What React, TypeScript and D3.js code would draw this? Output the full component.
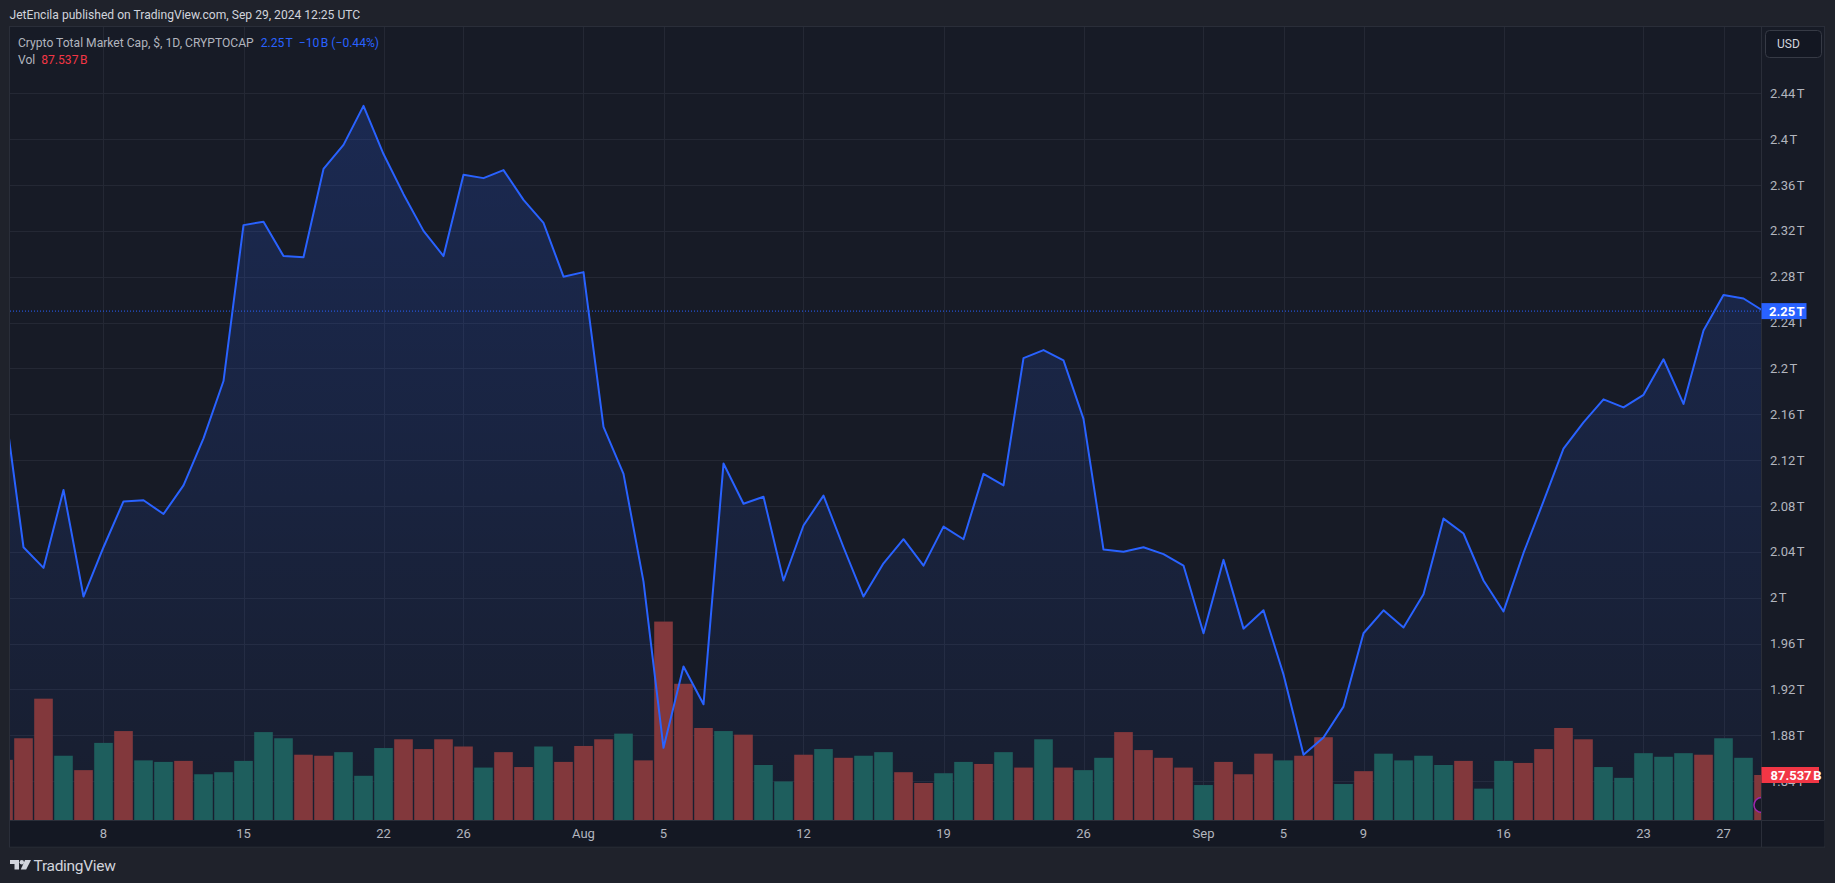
import React, { useEffect } from 'react'
import * as d3 from 'd3'

// Crypto total market cap, daily close in trillions USD (Jul 3 .. Sep 29, 2024)
const startDay = new Date(Date.UTC(2024, 6, 3))

const closes = [
  2.175, 2.044, 2.026, 2.094, 2.001, 2.044, 2.084, 2.085, 2.073, 2.098,
  2.139, 2.189, 2.325, 2.328, 2.298, 2.297, 2.374, 2.395, 2.429, 2.387,
  2.352, 2.32, 2.298, 2.369, 2.366, 2.373, 2.347, 2.327, 2.28,
  // Aug
  2.284, 2.149, 2.108, 2.014, 1.869, 1.94, 1.907, 2.117, 2.082, 2.088,
  2.015, 2.063, 2.089, 2.044, 2.001, 2.03, 2.051, 2.028, 2.062, 2.051,
  2.108, 2.098, 2.209, 2.216, 2.207, 2.156, 2.042, 2.04, 2.044, 2.038,
  2.028,
  // Sep
  1.969, 2.033, 1.973, 1.989, 1.933, 1.863, 1.878, 1.905, 1.969, 1.989,
  1.974, 2.003, 2.069, 2.056, 2.015, 1.988, 2.039, 2.084, 2.13, 2.153,
  2.173, 2.166, 2.177, 2.208, 2.169, 2.233, 2.264, 2.261, 2.25
]

// volume in billions
const volumes = [
  117, 159, 236, 125, 97, 150, 173, 116, 113, 115,
  89, 93, 115, 171, 159, 127, 125, 132, 86, 140,
  157, 138, 157, 143, 102, 132, 103, 143, 113,
  144, 157, 168, 116, 386, 265, 179, 173, 166, 107,
  75, 127, 138, 121, 125, 132, 93, 72, 91, 113,
  109, 132, 102, 157, 102, 97, 121, 171, 136, 121,
  102,
  68, 113, 89, 129, 116, 125, 161, 70, 95, 129,
  116, 125, 107, 115, 61, 115, 111, 138, 179, 157,
  103, 82, 130, 123, 130, 127, 159, 121, 87.537
]

// u = up candle (teal volume), d = down candle (red volume)
const candleDir =
  'dddududuuduuuuudduuuddddudduddd' +
  'udddduduududuudduudududuuddddudd' +
  'dudduduuuuduudddduuuuuduuduudd'

const priceTicks = [1.84, 1.88, 1.92, 1.96, 2, 2.04, 2.08, 2.12, 2.16, 2.2, 2.24, 2.28, 2.32, 2.36, 2.4, 2.44]

const timeTickDates = [
  '2024-07-08', '2024-07-15', '2024-07-22', '2024-07-26', '2024-08-01', '2024-08-05',
  '2024-08-12', '2024-08-19', '2024-08-26', '2024-09-01', '2024-09-05', '2024-09-09',
  '2024-09-16', '2024-09-23', '2024-09-27'
]
const timeTickLabels = ['8', '15', '22', '26', 'Aug', '5', '12', '19', '26', 'Sep', '5', '9', '16', '23', '27']

const lastPrice = 2.25
const lastVolume = 87.537

const W = 1835
const H = 883
const paneLeft = 10
const paneRight = 1761.5
const paneTop = 27
const paneBottom = 820
const axisBottom = 847
const frameRight = 1824.5

const FONT = 'Roboto, "Liberation Sans", sans-serif'
const TEXT = '#b2b5be'

const fmtT = (v: number) => `${+v.toFixed(2)}\u202FT`

export default function App() {
  useEffect(() => {
    document.body.style.margin = '0'
    document.body.style.background = '#1f222b'
  }, [])

  const rows = closes.map((c, i) => ({
    date: d3.utcDay.offset(startDay, i),
    close: c,
    vol: volumes[i],
    up: candleDir[i] === 'u'
  }))

  const x = d3
    .scaleUtc()
    .domain([startDay, d3.utcDay.offset(startDay, closes.length - 1)])
    .range([3.5, 3.5 + (closes.length - 1) * 20])
  const y = d3.scaleLinear().domain([1.84, 2.44]).range([781.1, 93.3])
  const yVol = d3.scaleLinear().domain([0, lastVolume]).range([paneBottom, paneBottom - 45])
  const barW = 18.6

  const line = d3
    .line<(typeof rows)[number]>()
    .x((d) => x(d.date))
    .y((d) => y(d.close))
  const area = d3
    .area<(typeof rows)[number]>()
    .x((d) => x(d.date))
    .y0(paneBottom)
    .y1((d) => y(d.close))

  const topY = y(d3.max(closes) as number)
  const lastY = y(lastPrice)

  return (
    <svg width={W} height={H} style={{ display: 'block', fontFamily: FONT }}>
      <defs>
        <clipPath id="pane">
          <rect x={paneLeft} y={paneTop} width={paneRight - paneLeft} height={paneBottom - paneTop} />
        </clipPath>
        <linearGradient id="areaFill" gradientUnits="userSpaceOnUse" x1={0} x2={0} y1={topY} y2={paneBottom}>
          <stop offset="0%" stopColor="#2962ff" stopOpacity={0.2} />
          <stop offset="100%" stopColor="#2962ff" stopOpacity={0.04} />
        </linearGradient>
      </defs>

      {/* outer background */}
      <rect x={0} y={0} width={W} height={H} fill="#1f222b" />
      <text x={9.5} y={18.5} fontSize={12.1} fill="#d1d4dc">
        JetEncila published on TradingView.com, Sep 29, 2024 12:25 UTC
      </text>

      {/* chart frame */}
      <rect x={9.5} y={26.5} width={frameRight - 9.5} height={axisBottom - 26.5} fill="#171b26" stroke="#2a2e39" />
      <rect x={paneLeft} y={paneBottom} width={paneRight - paneLeft} height={axisBottom - paneBottom - 0.5} fill="#141823" />
      <rect x={paneRight} y={paneBottom} width={frameRight - paneRight} height={axisBottom - paneBottom - 0.5} fill="#141823" />

      {/* grid */}
      <g stroke="#242834" strokeWidth={1}>
        {priceTicks.map((t) => (
          <line key={t} x1={paneLeft} x2={paneRight} y1={Math.round(y(t)) + 0.5} y2={Math.round(y(t)) + 0.5} />
        ))}
        {timeTickDates.map((d) => {
          const xx = Math.round(x(new Date(d))) + 0.5
          return <line key={d} x1={xx} x2={xx} y1={paneTop} y2={paneBottom} />
        })}
      </g>

      <g clipPath="url(#pane)">
        <path d={area(rows) || ''} fill="url(#areaFill)" />
        {rows.map((d, i) => (
          <rect
            key={i}
            x={x(d.date) - barW / 2}
            y={yVol(d.vol)}
            width={barW}
            height={paneBottom - yVol(d.vol)}
            fill={d.up ? '#1e5e5d' : '#82383c'}
          />
        ))}
        <line x1={paneLeft} x2={paneRight} y1={lastY} y2={lastY} stroke="#2962ff" strokeWidth={1} strokeDasharray="1 2" />
        <path d={line(rows) || ''} fill="none" stroke="#2962ff" strokeWidth={2} strokeLinejoin="round" />
        <circle cx={paneRight} cy={805} r={7.5} fill="#171b26" stroke="#9c27b0" strokeWidth={1.5} />
      </g>

      {/* axes separators */}
      <line x1={paneRight} x2={paneRight} y1={paneTop} y2={axisBottom} stroke="#2a2e39" />
      <line x1={paneLeft} x2={frameRight} y1={paneBottom + 0.5} y2={paneBottom + 0.5} stroke="#2a2e39" />

      {/* legend */}
      <text x={18} y={46.5} fontSize={12.1} fill={TEXT}>
        Crypto Total Market Cap, $, 1D, CRYPTOCAP
        <tspan dx={7} fill="#2962ff">
          {fmtT(lastPrice)}{'\u00A0\u00A0'}−10{'\u202F'}B (−0.44%)
        </tspan>
      </text>
      <text x={18} y={63.5} fontSize={12.1} fill={TEXT}>
        Vol
        <tspan dx={6} fill="#f23645">
          {lastVolume.toFixed(3)}{'\u202F'}B
        </tspan>
      </text>

      {/* price axis */}
      {priceTicks.map((t) => (
        <text key={t} x={1770} y={y(t)} dy="0.35em" fontSize={13} fill={TEXT}>
          {fmtT(t)}
        </text>
      ))}
      <rect x={paneRight} y={lastY - 8} width={45} height={16} fill="#2962ff" />
      <text x={1769} y={lastY} dy="0.36em" fontSize={13} fontWeight={700} fill="#ffffff">
        {fmtT(lastPrice)}
      </text>
      <rect x={paneRight} y={yVol(lastVolume) - 8} width={57.5} height={16} fill="#f23645" />
      <text x={1770.5} y={yVol(lastVolume)} dy="0.36em" fontSize={13} fontWeight={700} fill="#ffffff">
        {lastVolume.toFixed(3)}{'\u202F'}B
      </text>

      {/* currency button */}
      <rect x={1765.5} y={30.5} width={56} height={27} rx={4} fill="#131722" stroke="#363a45" />
      <text x={1777} y={44} dy="0.35em" fontSize={12} fill="#d1d4dc">
        USD
      </text>

      {/* time axis */}
      {timeTickDates.map((d, i) => (
        <text key={d} x={x(new Date(d))} y={838} textAnchor="middle" fontSize={13} fill={TEXT}>
          {timeTickLabels[i]}
        </text>
      ))}

      {/* footer logo */}
      <g fill="#d1d4dc">
        <path d="M10 860 H19 V869.5 H14.5 V864 H10 Z" />
        <circle cx={21.8} cy={862.2} r={2.2} />
        <path d="M25 860 H31 L26.2 869.5 H20.8 Z" />
      </g>
      <text x={33.5} y={870.5} fontSize={15.5} fill="#d1d4dc" letterSpacing={-0.3}>
        TradingView
      </text>
    </svg>
  )
}
